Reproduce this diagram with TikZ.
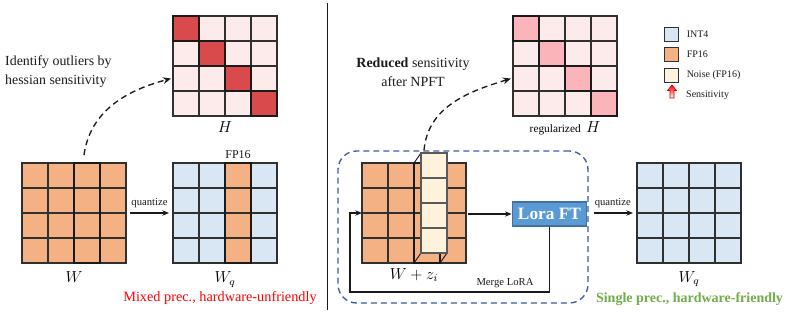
\documentclass[tikz,border=0pt]{standalone}
\usepackage{fontspec}
\setmainfont{Liberation Serif}
\usepackage{amsmath}
\usetikzlibrary{positioning, calc, arrows.meta}
\definecolor{Dark}{HTML}{1A1A1A}
\definecolor{GridLine}{HTML}{303030}
\definecolor{FPOrange}{HTML}{F4B183}
\definecolor{IntBlue}{HTML}{D9E6F4}
\definecolor{NoiseCream}{HTML}{FFF2DC}
\definecolor{HotRed}{HTML}{D94A4D}
\definecolor{PaleRed}{HTML}{FDEBEB}
\definecolor{SoftRed}{HTML}{FBB4B9}
\definecolor{LoraBlue}{HTML}{5B9BD5}
\definecolor{LoraEdge}{HTML}{41719C}
\definecolor{BoxBlue}{HTML}{3A5DA0}
\definecolor{GoodGreen}{HTML}{70AD47}
\definecolor{BadRed}{HTML}{FF0000}
\tikzset{
    matframe/.style={rectangle, minimum width=78pt, minimum height=75pt, inner sep=0pt, outer sep=0pt},
    noisebar/.style={rectangle, minimum width=19.5pt, minimum height=75pt, inner sep=0pt, outer sep=0pt},
    gridcell/.style={draw=GridLine, line width=0.9pt},
    boldcell/.style={draw=Dark, line width=2.2pt},
    noisecell/.style={draw=black!65, line width=0.8pt, fill=NoiseCream},
    mathlabel/.style={font=\fontsize{12}{14}\selectfont, inner sep=1pt},
    smalltext/.style={font=\fontsize{8}{9}\selectfont, text=Dark},
    notetext/.style={font=\fontsize{10.4}{14.25}\selectfont, text=Dark},
    lorabox/.style={rectangle, fill=LoraBlue, draw=LoraEdge, line width=0.8pt, text=white, font=\bfseries\fontsize{13}{15}\selectfont, minimum width=56pt, minimum height=18pt, inner sep=0pt},
    ftbox/.style={rectangle, rounded corners=14pt, draw=BoxBlue, line width=1pt, dash pattern=on 4.5pt off 3pt, minimum width=187.5pt, minimum height=114pt},
    legendbox/.style={rectangle, draw=GridLine, line width=0.8pt, minimum size=11pt, inner sep=0pt},
    legendtext/.style={font=\fontsize{7.5}{9}\selectfont, anchor=west, text=Dark},
    arrow/.style={-{Stealth[length=5pt, width=4pt]}, line width=0.8pt, color=Dark},
    dasharrow/.style={-{Stealth[length=6pt, width=5pt]}, line width=1pt, dash pattern=on 4.5pt off 3pt, color=Dark},
}

\begin{document}
\begin{tikzpicture}[x=0.75pt, y=0.75pt]
    \useasboundingbox (0,0) rectangle (789,312);

    % Pannello sinistro: matrici
    \node[matframe] (H1) at (225,246) {};
    \node[matframe] (W1) at (74,99) {};
    \node[matframe] (Wq1) at (225,99) {};

    \begin{scope}[shift={(H1.north west)}]
        \foreach \r in {0,...,3}
            \foreach \c in {0,...,3}
                \draw[gridcell, fill=PaleRed] (26*\c,-25*\r) rectangle ++(26,-25);
        \foreach \k in {0,...,3}
            \draw[boldcell, fill=HotRed] (26*\k,-25*\k) rectangle ++(26,-25);
    \end{scope}

    \begin{scope}[shift={(W1.north west)}]
        \foreach \r in {0,...,3}
            \foreach \c in {0,...,3}
                \draw[gridcell, fill=FPOrange] (26*\c,-25*\r) rectangle ++(26,-25);
        \draw[boldcell] (52,0) rectangle ++(26,-100);
    \end{scope}

    \begin{scope}[shift={(Wq1.north west)}]
        \foreach \r in {0,...,3}
            \foreach \c in {0,...,3}
                \draw[gridcell, fill=IntBlue] (26*\c,-25*\r) rectangle ++(26,-25);
        \foreach \r in {0,...,3}
            \draw[gridcell, fill=FPOrange] (52,-25*\r) rectangle ++(26,-25);
        \draw[boldcell] (52,0) rectangle ++(26,-100);
    \end{scope}

    % Etichette sinistra
    \node[mathlabel, below=2.75pt of H1] (H1lab) {$H$};
    \node[mathlabel, below=5.5pt of W1] (W1lab) {$W$};
    \node[mathlabel, below=5.5pt of Wq1] (Wq1lab) {$W_q$};
    \node[font=\fontsize{9}{10}\selectfont, text=Dark] (fplab) at (238,157) {FP16};
    \node[notetext, align=left, anchor=west] (outlier) at (0.5,240.5) {Identify outliers by\\hessian sensitivity};
    \node[font=\fontsize{10.7}{12}\selectfont, text=BadRed] (mixedlab) at (220,14) {Mixed prec., hardware-unfriendly};

    % Frecce sinistra
    \draw[arrow, shorten <=3pt, shorten >=3pt] (W1.east) -- node[smalltext, above=0pt] (q1lab) {quantize} (Wq1.west);
    \draw[dasharrow] ([xshift=7.5pt, yshift=6pt]W1.north) to[out=82, in=195] ([xshift=-1.5pt, yshift=-9.4pt]H1.west);

    % Separatore
    \draw[line width=1.1pt, Dark] (327.7,2) -- (327.7,309);

    % Pannello destro
    \node[ftbox] (ftbox) at (463,85) {};
    \node[matframe] (H2) at (565,246) {};
    \node[matframe] (W2) at (414,99) {};
    \node[matframe] (Wq2) at (689,99) {};
    \node[noisebar] (noise) at (434,109) {};

    \begin{scope}[shift={(H2.north west)}]
        \foreach \r in {0,...,3}
            \foreach \c in {0,...,3}
                \draw[gridcell, fill=PaleRed] (26*\c,-25*\r) rectangle ++(26,-25);
        \foreach \k in {0,...,3}
            \draw[boldcell, fill=SoftRed] (26*\k,-25*\k) rectangle ++(26,-25);
    \end{scope}

    \begin{scope}[shift={(W2.north west)}]
        \foreach \r in {0,...,3}
            \foreach \c in {0,...,3}
                \draw[gridcell, fill=FPOrange] (26*\c,-25*\r) rectangle ++(26,-25);
        \draw[boldcell] (52,0) rectangle ++(26,-100);
        \draw[line width=0.7pt, Dark] (52,0) -- ++(7,10) (52,-100) -- ++(7,10) (78,-100) -- ++(7,10);
    \end{scope}

    % Rumore (FP16)
    \begin{scope}[shift={(noise.north west)}]
        \foreach \r in {0,...,3}
            \draw[noisecell] (0,-25*\r) rectangle ++(26,-25);
    \end{scope}

    \begin{scope}[shift={(Wq2.north west)}]
        \foreach \r in {0,...,3}
            \foreach \c in {0,...,3}
                \draw[gridcell, fill=IntBlue] (26*\c,-25*\r) rectangle ++(26,-25);
    \end{scope}

    \node[lorabox] (lora) at (549.5,98) {Lora FT};

    % Etichette destra
    \node[below=2.75pt of H2, font=\fontsize{12}{14}\selectfont, inner sep=1pt] (H2lab) {{\fontsize{8.5}{10}\selectfont regularized}\hspace{4pt}$H$};
    \node[mathlabel, below=2.75pt of W2] (W2lab) {$W + z_i$};
    \node[mathlabel, below=5pt of Wq2] (Wq2lab) {$W_q$};
    \node[notetext, align=center, font=\fontsize{10.5}{14.25}\selectfont] (reduced) at (413,239.5) {\textbf{Reduced} sensitivity\\after NPFT};
    \node[smalltext] (mergelab) at (505,29) {Merge LoRA};
    \node[font=\bfseries\fontsize{10.5}{12}\selectfont, text=GoodGreen] (singlelab) at (689.5,13) {Single prec., hardware-friendly};

    % Frecce destra
    \coordinate (loopturn) at (350,20);
    \draw[arrow, shorten <=1.5pt] (W2.east |- lora.west) -- (lora.west);
    \draw[arrow] (lora.south) |- (loopturn) |- (W2.west);
    \draw[arrow, shorten <=3.75pt, shorten >=3pt] (ftbox.east |- Wq2.west) -- node[smalltext, above=0pt] (q2lab) {quantize} (Wq2.west);
    \draw[dasharrow] ([xshift=-7.5pt, yshift=2pt]noise.north) to[out=85, in=197] ([xshift=-1.5pt, yshift=-9.4pt]H2.west);

    % Legenda
    \node[legendbox, fill=IntBlue] (legint) at (671.5,277.5) {};
    \node[legendtext, right=2pt of legint] (leginttxt) {INT4};
    \node[legendbox, fill=FPOrange] (legfp) at (671.5,257.5) {};
    \node[legendtext, right=2pt of legfp] (legfptxt) {FP16};
    \node[legendbox, fill=NoiseCream] (legnoise) at (671.5,236.5) {};
    \node[legendtext, right=2pt of legnoise] (legnoisetxt) {Noise (FP16)};
    \shade[top color=red, bottom color=white, draw=red!80!black, line width=0.5pt] (672,227) -- (676.5,221.5) -- (674,221.5) -- (674,214) -- (670,214) -- (670,221.5) -- (667.5,221.5) -- cycle;
    \node[legendtext] (legsenstxt) at (681.5,217) {Sensitivity};
\end{tikzpicture}
\end{document}
